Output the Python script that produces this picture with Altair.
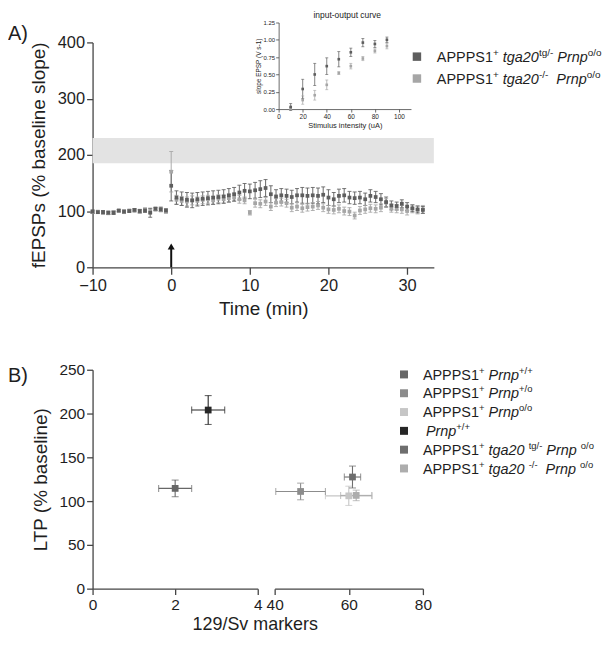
import altair as alt
import pandas as pd

FONT = "Liberation Sans"
INK = "#1e1e1e"
AXC = "#454545"

# ---------------- Panel A: LTP time course ----------------
time_min = [-10.0, -9.33, -8.67, -8.0, -7.33, -6.67, -6.0, -5.33, -4.67, -4.0,
            -3.33, -2.67, -2.0, -1.33, -0.67, 0.0,
            0.67, 1.33, 2.0, 2.67, 3.33, 4.0, 4.67, 5.33, 6.0, 6.67,
            7.33, 8.0, 8.67, 9.33, 10.0, 10.67, 11.33, 12.0, 12.67, 13.33,
            14.0, 14.67, 15.33, 16.0, 16.67, 17.33, 18.0, 18.67, 19.33, 20.0,
            20.67, 21.33, 22.0, 22.67, 23.33, 24.0, 24.67, 25.33, 26.0, 26.67,
            27.33, 28.0, 28.67, 29.33, 30.0, 30.67, 31.33, 32.0]

tg_mean = [99, 98, 98, 97, 97, 101, 99, 100, 102, 100, 101, 97, 104, 103, 101,
           145,
           124, 122, 120, 119, 121, 122, 123, 124, 125, 126,
           128, 130, 133, 136, 135, 137, 139, 141, 130, 126,
           128, 127, 125, 128, 128, 127, 128, 127, 129, 124,
           121, 127, 128, 124, 123, 124, 121, 127, 125, 121,
           116, 110, 109, 113, 108, 105, 103, 102]
tg_sem = [3, 2, 3, 3, 3, 2, 3, 2, 2, 3, 3, 8, 3, 4, 3,
          27,
          12, 12, 13, 13, 12, 12, 12, 12, 12, 12,
          12, 12, 13, 13, 13, 14, 15, 15, 15, 12,
          12, 12, 12, 12, 14, 14, 14, 14, 14, 14,
          12, 12, 12, 11, 11, 11, 11, 11, 10, 10,
          9, 8, 7, 7, 7, 6, 6, 6]
ko_mean = [98, 99, 97, 96, 98, 100, 98, 101, 101, 99, 102, 100, 103, 102, 99,
           170,
           120, 118, 117, 119, 118, 120, 121, 119, 122, 121,
           123, 124, 121, 119, 97, 114, 113, 117, 108, 115,
           116, 114, 106, 108, 105, 107, 108, 110, 106, 103,
           102, 104, 100, 99, 92, 101, 103, 105, 104, 106,
           115, 105, 104, 103, 100, 104, 102, 103]
ko_sem = [2, 2, 2, 2, 2, 2, 2, 2, 3, 3, 4, 4, 3, 3, 3,
          36,
          8, 8, 8, 8, 7, 7, 7, 7, 7, 7,
          7, 7, 7, 6, 4, 7, 7, 7, 7, 7,
          7, 7, 7, 7, 7, 7, 7, 7, 7, 7,
          7, 7, 7, 7, 6, 7, 7, 7, 7, 7,
          7, 7, 7, 7, 7, 7, 7, 7]

ltp_band = [185, 230]          # grey reference band (% baseline)
stim_time = 0.0                 # tetanus arrow
series_A = ["tga20-/-", "tga20tg/-"]
colors_A = ["#a6a6a6", "#5e5e5e"]

# inset: input-output curve
stim_uA = [10, 20, 30, 40, 50, 60, 70, 80, 90]
io_tg = [0.03, 0.29, 0.50, 0.62, 0.72, 0.82, 0.96, 0.94, 1.00]
io_tg_sem = [0.05, 0.14, 0.16, 0.12, 0.11, 0.06, 0.06, 0.05, 0.04]
io_ko = [0.01, 0.13, 0.20, 0.35, 0.52, 0.62, 0.73, 0.84, 0.91]
io_ko_sem = [0.02, 0.06, 0.07, 0.07, 0.02, 0.04, 0.03, 0.03, 0.04]

# ---------------- Panel B: LTP vs 129/Sv markers ----------------
b_groups = ["APPPS1+ Prnp+/+", "APPPS1+ Prnp+/o", "APPPS1+ Prnpo/o", "Prnp+/+",
            "APPPS1+ tga20tg/- Prnpo/o", "APPPS1+ tga20-/- Prnpo/o"]
b_markers = [2.0, 47.0, 60.0, 2.8, 61.0, 62.0]
b_markers_err = [0.4, 6.7, 6.3, 0.4, 2.2, 4.2]
b_ltp = [114.5, 111.0, 106.0, 204.0, 127.5, 106.5]
b_ltp_err = [9.5, 9.5, 11.0, 16.5, 12.5, 6.0]
b_colors = ["#676767", "#8c8c8c", "#c6c6c6", "#262626", "#6e6e6e", "#adadad"]

# ---------------- layout constants ----------------
A_W, A_H = 343, 226
A_XD, A_YD = [-10, 33.4], [0, 400]
IN_XD, IN_XR = [0, 110], [187, 320]
IN_YD, IN_YR = [0, 1.25], [67, -20]
BL_W, BR_W, B_H = 166, 149, 220
BL_XD, BR_XD, B_YD = [0, 4], [40, 80], [0, 250]

def a_xy(px, py):
    return (A_XD[0] + px / A_W * (A_XD[1] - A_XD[0]),
            A_YD[1] - py / A_H * (A_YD[1] - A_YD[0]))

def bl_xy(px, py):
    return (BL_XD[0] + px / BL_W * (BL_XD[1] - BL_XD[0]),
            B_YD[1] - py / B_H * (B_YD[1] - B_YD[0]))

def br_xy(px, py):
    return (BR_XD[0] + px / BR_W * (BR_XD[1] - BR_XD[0]),
            B_YD[1] - py / B_H * (B_YD[1] - B_YD[0]))

# Arial/Liberation Sans advance widths (per 1000 em)
CW = {"A": 667, "P": 667, "S": 667, "1": 556, "2": 556, "0": 556, " ": 278,
      "t": 278, "g": 556, "a": 556, "r": 333, "n": 556, "p": 556, "o": 556,
      "/": 278, "+": 584, "-": 333}

def tw(s, size):
    return sum(CW[c] for c in s) * size / 1000.0

def layout_rows(rows, x0, y0, dy, main, sup, indents):
    recs = []
    for r, row in enumerate(rows):
        base = y0 + r * dy + 0.36 * main
        x = x0 + indents[r]
        for txt, kind in row:
            if kind == "_":
                x += CW[" "] * main / 1000.0
                continue
            size = sup if kind == "s" else main
            y = base - 0.42 * main if kind == "s" else base
            recs.append({"px": x, "py": y, "text": txt, "size": size,
                         "italic": kind == "i"})
            x += tw(txt, size)
    return recs

G = ("", "_")
A_rows = [
    [("APPPS1", "n"), ("+", "s"), G, ("tga20", "i"), ("tg/-", "s"), G, ("Prnp", "i"), ("o/o", "s")],
    [("APPPS1", "n"), ("+", "s"), G, ("tga20", "i"), ("-/-", "s"), G, G, ("Prnp", "i"), ("o/o", "s")],
]
B_rows = [
    [("APPPS1", "n"), ("+", "s"), G, ("Prnp", "i"), ("+/+", "s")],
    [("APPPS1", "n"), ("+", "s"), G, ("Prnp", "i"), ("+/o", "s")],
    [("APPPS1", "n"), ("+", "s"), G, ("Prnp", "i"), ("o/o", "s")],
    [("Prnp", "i"), ("+/+", "s")],
    [("APPPS1", "n"), ("+", "s"), G, ("tga20", "i"), G, ("tg/-", "s"), G, ("Prnp", "i"), G, ("o/o", "s")],
    [("APPPS1", "n"), ("+", "s"), G, ("tga20", "i"), G, ("-/-", "s"), G, G, ("Prnp", "i"), G, ("o/o", "s")],
]

# ---------------- scales / axes ----------------
axis_common = dict(grid=False, labelFlush=False, labelOverlap=False,
                   domainColor=AXC, tickColor=AXC, labelColor=INK, titleColor=INK,
                   titleFontWeight="normal", domainWidth=1.3, tickWidth=1.3)

sxA = alt.Scale(domain=A_XD, nice=False, zero=False)
syA = alt.Scale(domain=A_YD, nice=False, zero=False)
axXA = alt.Axis(orient="bottom", values=[-10, 0, 10, 20, 30], title="Time (min)",
                tickSize=7, labelPadding=3, labelFontSize=16.5, titleFontSize=19,
                titlePadding=6, **axis_common)
axYA = alt.Axis(orient="left", values=[0, 100, 200, 300, 400],
                title="fEPSPs (% baseline slope)", tickSize=6, labelPadding=2,
                labelFontSize=16.5, titleFontSize=19, titlePadding=9, **axis_common)

sxI = alt.Scale(domain=IN_XD, range=IN_XR, nice=False, zero=False)
syI = alt.Scale(domain=IN_YD, range=IN_YR, nice=False, zero=False)
in_common = dict(axis_common, domainWidth=0.8, tickWidth=0.8)
axXI = alt.Axis(orient="bottom", offset=-(A_H - IN_YR[0]), values=[0, 20, 40, 60, 80, 100],
                title="Stimulus intensity (uA)", tickSize=3, labelPadding=1,
                labelFontSize=6.5, titleFontSize=7.5, titlePadding=2, **in_common)
axYI = alt.Axis(orient="left", offset=-IN_XR[0], values=[0, 0.25, 0.5, 0.75, 1.0, 1.25],
                format=".2f", title="slope EPSP (V s-1)", tickSize=3, labelPadding=1,
                labelFontSize=6, titleFontSize=6.5, titlePadding=2, **in_common)

colA = alt.Color("series:N", scale=alt.Scale(domain=series_A, range=colors_A), legend=None)

def XA(f="x:Q"):
    return alt.X(f, scale=sxA, axis=axXA)

def YA(f="y:Q"):
    return alt.Y(f, scale=syA, axis=axYA)

def XI(f="x:Q"):
    return alt.X(f, scale=sxI, axis=axXI)

def YI(f="y:Q"):
    return alt.Y(f, scale=syI, axis=axYI)

# ---------------- Panel A data frames ----------------
rows = []
for name, m, s in [(series_A[0], ko_mean, ko_sem), (series_A[1], tg_mean, tg_sem)]:
    for t, v, e in zip(time_min, m, s):
        rows.append({"x": t, "y": v, "lo": v - e, "hi": v + e, "series": name})
tc = pd.DataFrame(rows)

band_df = pd.DataFrame({"x": [A_XD[0]], "x2": [A_XD[1]], "y": [ltp_band[0]], "y2": [ltp_band[1]]})
arrow_df = pd.DataFrame({"x": [stim_time], "y": [0], "y2": [34], "yh": [37]})

legA_sq = []
for i, name in enumerate(reversed(series_A)):
    x, y = a_xy(326, 14.3 + 22 * i)
    legA_sq.append({"x": x, "y": y, "series": name})
legA_sq = pd.DataFrame(legA_sq)

legA_txt = pd.DataFrame(layout_rows(A_rows, 346, 14.3, 22, 14.5, 10, [0, 0]))
legA_txt["x"], legA_txt["y"] = zip(*[a_xy(p, q) for p, q in zip(legA_txt.px, legA_txt.py)])

lx, ly = a_xy(-85, -8)
labA = pd.DataFrame({"x": [lx], "y": [ly], "text": ["A)"]})

band = alt.Chart(band_df).mark_rect(color="#e3e3e3").encode(
    x=XA(), x2="x2", y=YA(), y2="y2")
errA = alt.Chart(tc).mark_rule(strokeWidth=1.1, opacity=0.85).encode(
    x=XA(), y=YA("lo:Q"), y2="hi", color=colA)
capA1 = alt.Chart(tc).mark_tick(orient="horizontal", size=4, thickness=1, opacity=0.85).encode(
    x=XA(), y=YA("lo:Q"), color=colA)
capA2 = alt.Chart(tc).mark_tick(orient="horizontal", size=4, thickness=1, opacity=0.85).encode(
    x=XA(), y=YA("hi:Q"), color=colA)
ptsA = alt.Chart(tc).mark_square(size=14, opacity=1).encode(x=XA(), y=YA(), color=colA)
arrow = alt.Chart(arrow_df).mark_rule(strokeWidth=2, color="#111111").encode(
    x=XA(), y=YA(), y2="y2")
arrowhead = alt.Chart(arrow_df).mark_point(shape="triangle-up", size=50, filled=True,
                                           color="#111111", opacity=1).encode(
    x=XA(), y=YA("yh:Q"))
legA_squares = alt.Chart(legA_sq).mark_square(size=72, opacity=1).encode(
    x=XA(), y=YA(), color=colA)

def text_layer(df, italic, enc_x, enc_y):
    return alt.Chart(df).mark_text(align="left", baseline="alphabetic", color=INK,
                                   fontStyle="italic" if italic else "normal").encode(
        x=enc_x, y=enc_y, text="text:N", size=alt.Size("size:Q", scale=None))

legA_n = text_layer(legA_txt[~legA_txt.italic][["x", "y", "text", "size"]], False, XA(), YA())
legA_i = text_layer(legA_txt[legA_txt.italic][["x", "y", "text", "size"]], True, XA(), YA())
labelA = alt.Chart(labA).mark_text(align="left", baseline="middle", fontSize=20, color=INK).encode(
    x=XA(), y=YA(), text="text:N")

mainA = alt.layer(band, errA, capA1, capA2, ptsA, arrow, arrowhead,
                  legA_squares, legA_n, legA_i, labelA)

# inset
io_rows = []
for name, m, s in [(series_A[0], io_ko, io_ko_sem), (series_A[1], io_tg, io_tg_sem)]:
    for xv, v, e in zip(stim_uA, m, s):
        io_rows.append({"x": xv, "y": v, "lo": v - e, "hi": v + e, "series": name})
io = pd.DataFrame(io_rows)
errI = alt.Chart(io).mark_rule(strokeWidth=0.9, opacity=0.85).encode(
    x=XI(), y=YI("lo:Q"), y2="hi", color=colA)
capI1 = alt.Chart(io).mark_tick(orient="horizontal", size=3, thickness=0.9).encode(
    x=XI(), y=YI("lo:Q"), color=colA)
capI2 = alt.Chart(io).mark_tick(orient="horizontal", size=3, thickness=0.9).encode(
    x=XI(), y=YI("hi:Q"), color=colA)
ptsI = alt.Chart(io).mark_square(size=7, opacity=1).encode(x=XI(), y=YI(), color=colA)
in_title = alt.Chart(pd.DataFrame({"x": [57], "y": [1.365], "text": ["input-output curve"]})).mark_text(
    fontSize=8.5, color=INK, baseline="middle").encode(x=XI(), y=YI(), text="text:N")
insetA = alt.layer(errI, capI1, capI2, ptsI, in_title)

panelA = alt.layer(mainA, insetA).resolve_scale(x="independent", y="independent").properties(
    width=A_W, height=A_H)

# ---------------- Panel B ----------------
bdf = pd.DataFrame({"group": b_groups, "x": b_markers, "xe": b_markers_err,
                    "y": b_ltp, "ye": b_ltp_err})
bdf["xlo"] = bdf.x - bdf.xe
bdf["xhi"] = bdf.x + bdf.xe
bdf["ylo"] = bdf.y - bdf.ye
bdf["yhi"] = bdf.y + bdf.ye
colB = alt.Color("group:N", scale=alt.Scale(domain=b_groups, range=b_colors), legend=None)

syB = alt.Scale(domain=B_YD, nice=False, zero=False)
axYB = alt.Axis(orient="left", values=[0, 50, 100, 150, 200, 250], title="LTP (% baseline)",
                tickSize=6, labelPadding=2, labelFontSize=15.5, titleFontSize=19,
                titlePadding=8, **axis_common)

def b_panel(df, xdom, xvals, yaxis, extra):
    sx = alt.Scale(domain=xdom, nice=False, zero=False)
    ax = alt.Axis(orient="bottom", values=xvals, title=None, tickSize=6, labelPadding=3,
                  labelFontSize=15.5, **axis_common)
    X = lambda f="x:Q": alt.X(f, scale=sx, axis=ax)
    Y = lambda f="y:Q": alt.Y(f, scale=syB, axis=yaxis)
    base = alt.Chart(df)
    layers = [
        base.mark_rule(strokeWidth=1.1).encode(x=X("xlo:Q"), x2="xhi", y=Y(), color=colB),
        base.mark_rule(strokeWidth=1.1).encode(x=X(), y=Y("ylo:Q"), y2="yhi", color=colB),
        base.mark_tick(orient="vertical", size=7, thickness=1.1).encode(x=X("xlo:Q"), y=Y(), color=colB),
        base.mark_tick(orient="vertical", size=7, thickness=1.1).encode(x=X("xhi:Q"), y=Y(), color=colB),
        base.mark_tick(orient="horizontal", size=7, thickness=1.1).encode(x=X(), y=Y("ylo:Q"), color=colB),
        base.mark_tick(orient="horizontal", size=7, thickness=1.1).encode(x=X(), y=Y("yhi:Q"), color=colB),
        base.mark_square(size=46, opacity=1).encode(x=X(), y=Y(), color=colB),
    ]
    for make in extra:
        layers.append(make(X, Y))
    return alt.layer(*layers)

left_df = bdf[bdf.x < 20].reset_index(drop=True)
right_df = bdf[bdf.x >= 20].reset_index(drop=True)

bx, by = bl_xy(-85, 6)
tx, ty = bl_xy(163.5, 257)
labB_df = pd.DataFrame({"x": [bx], "y": [by], "text": ["B)"]})
xt_df = pd.DataFrame({"x": [tx], "y": [ty], "text": ["129/Sv markers"]})

left_extra = [
    lambda X, Y: alt.Chart(labB_df).mark_text(align="left", baseline="middle", fontSize=20,
                                              color=INK).encode(x=X(), y=Y(), text="text:N"),
    lambda X, Y: alt.Chart(xt_df).mark_text(align="center", baseline="middle", fontSize=18,
                                            color=INK).encode(x=X(), y=Y(), text="text:N"),
]

legB_sq = []
for i, name in enumerate(b_groups):
    x, y = br_xy(130, 4.7 + 18.9 * i)
    legB_sq.append({"x": x, "y": y, "group": name})
legB_sq = pd.DataFrame(legB_sq)
legB_txt = pd.DataFrame(layout_rows(B_rows, 149, 4.7, 18.9, 14.5, 9.5, [0, 0, 0, 3, 0, 0]))
legB_txt["x"], legB_txt["y"] = zip(*[br_xy(p, q) for p, q in zip(legB_txt.px, legB_txt.py)])

right_extra = [
    lambda X, Y: alt.Chart(legB_sq).mark_square(size=64, opacity=1).encode(x=X(), y=Y(), color=colB),
    lambda X, Y: text_layer(legB_txt[~legB_txt.italic][["x", "y", "text", "size"]], False, X(), Y()),
    lambda X, Y: text_layer(legB_txt[legB_txt.italic][["x", "y", "text", "size"]], True, X(), Y()),
]

left = b_panel(left_df, BL_XD, [0, 2, 4], axYB, left_extra).properties(width=BL_W, height=B_H)
right = b_panel(right_df, BR_XD, [40, 60, 80], None, right_extra).properties(width=BR_W, height=B_H)

panelB = alt.hconcat(left, right, spacing=17, bounds="flush").resolve_scale(
    x="independent", y="independent")

chart = alt.vconcat(panelA, panelB, spacing=103, bounds="flush", padding=0).resolve_scale(
    x="independent", y="independent", color="independent", size="independent"
).configure(font=FONT).configure_view(stroke=None)

chart.save("out.html", embed_options={"renderer": "svg", "actions": False})
